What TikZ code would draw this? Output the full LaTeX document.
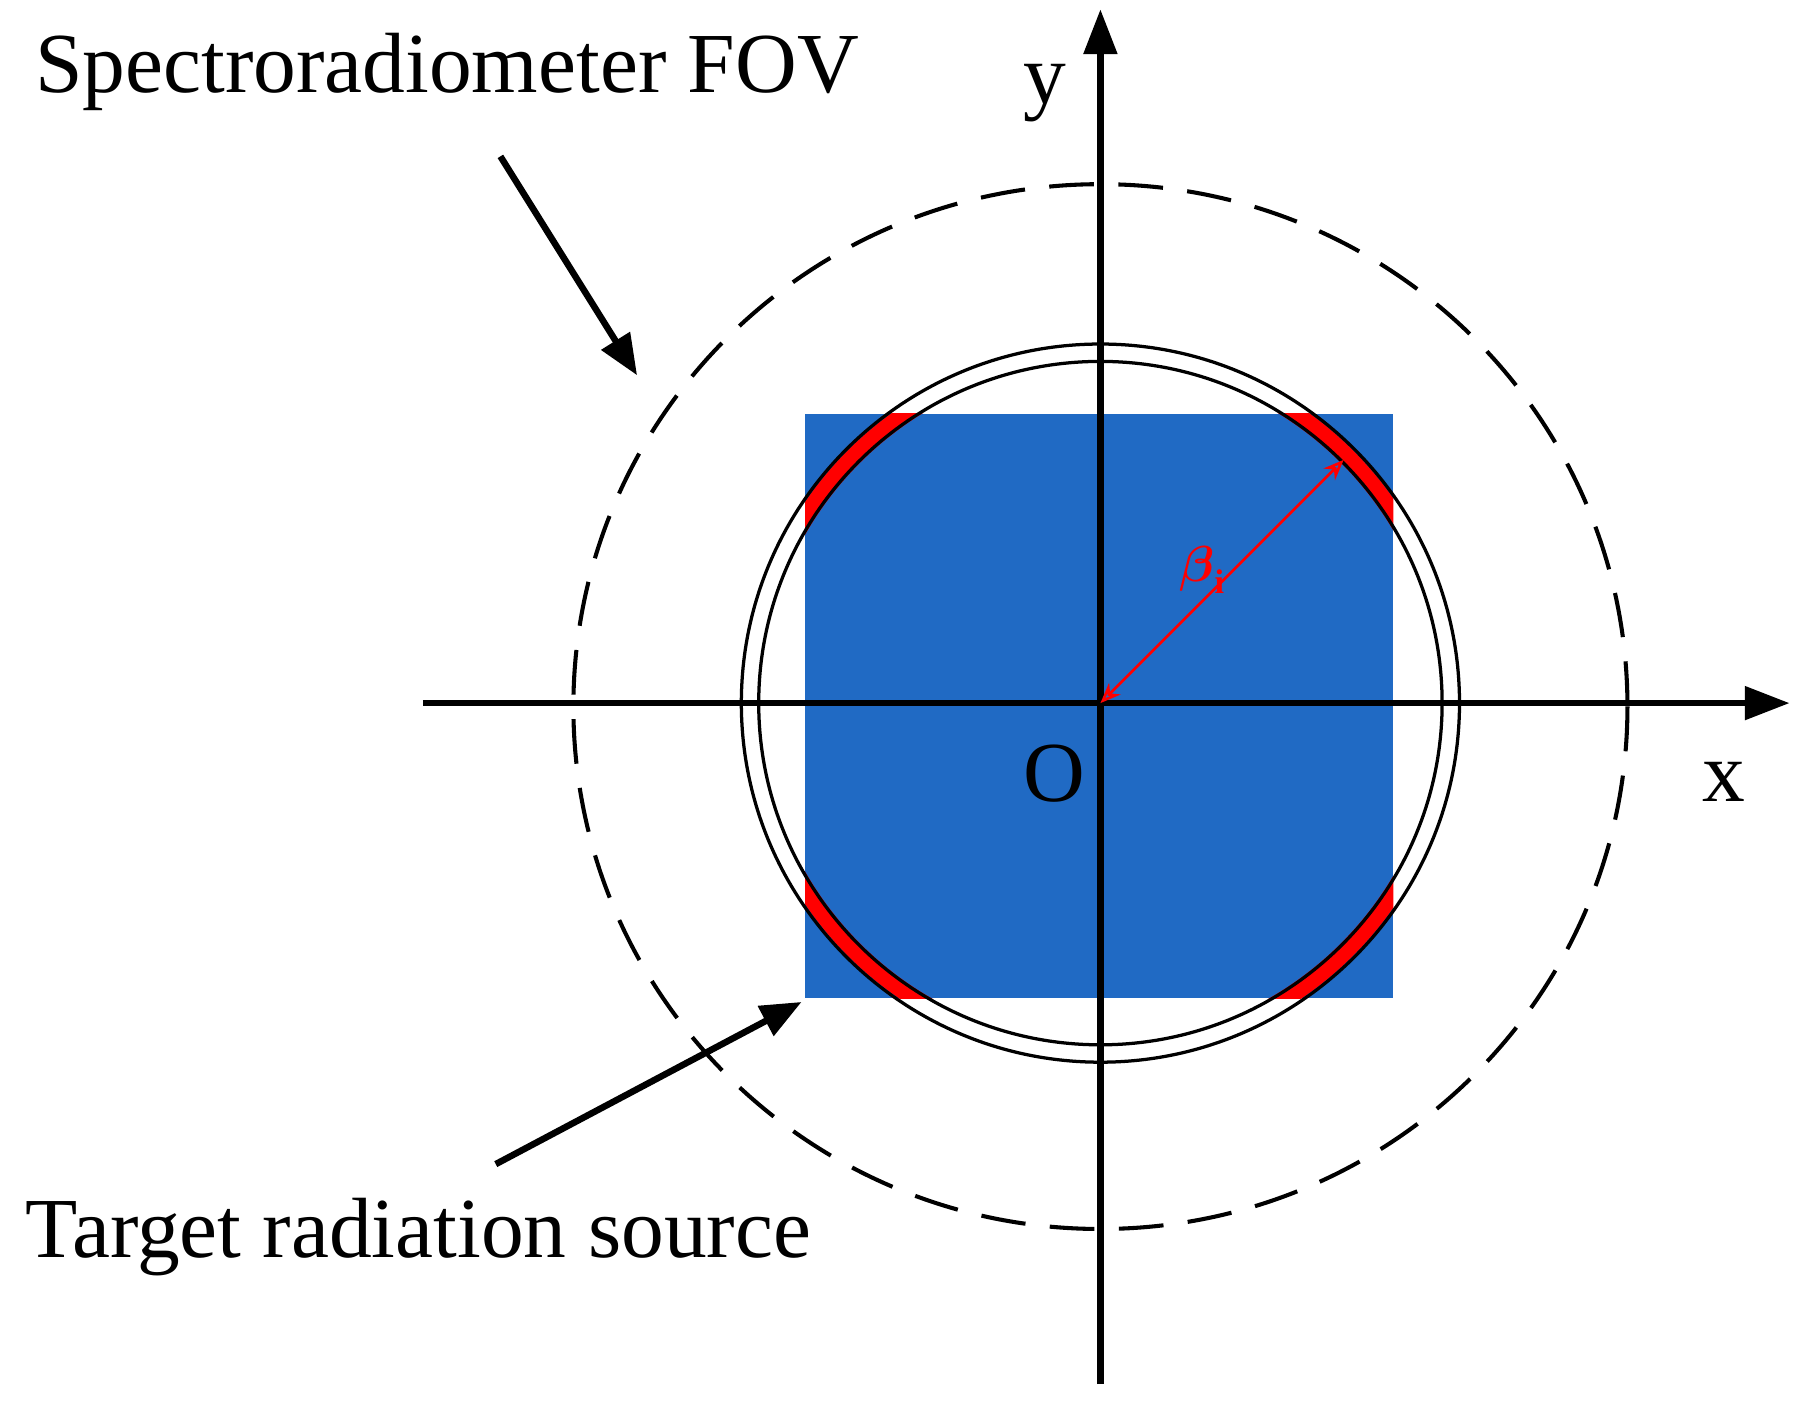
\documentclass[tikz,border=0pt]{standalone}
\usepackage{amsmath,amssymb}
\usepackage{fontspec}
\setmainfont{Liberation Serif}
\usetikzlibrary{arrows.meta}
\begin{document}
\begin{tikzpicture}[x=0.02cm,y=-0.02cm,
  ax/.style={line width=3.2pt,-{Triangle[length=22pt,width=16pt]}},
  pt/.style={line width=3.2pt,-{Triangle[length=20pt,width=16pt]}},
  lbl/.style={font=\fontsize{42}{48}\selectfont,inner sep=0pt}]
\useasboundingbox (0,0) rectangle (1560,1220);
\coordinate (O) at (950,607);
\fill[fill={rgb,255:red,32;green,106;blue,196}] (695,357) rectangle (1203,862);
\begin{scope}
\clip (695,357) rectangle (1203,862);
\draw[red,line width=0.3cm] (O) circle[radius=301];
\end{scope}
\draw[line width=1.6pt] (O) circle[radius=295];
\draw[line width=1.6pt] (O) circle[radius=310];
\draw[line width=2pt,dash pattern=on 22pt off 12pt] (950,610) ellipse[x radius=455,y radius=451];
\coordinate (xs) at (365,607); \coordinate (xe) at (1545,607);
\coordinate (ys) at (950,1195); \coordinate (ye) at (950,8);
\draw[ax] (xs) -- (xe);
\draw[ax] (ys) -- (ye);
\coordinate (bt) at (1160,397);
\draw[red,line width=1.3pt,{Stealth[length=10pt,width=8pt,open]}-{Stealth[length=10pt,width=8pt,open]}] (O) -- (bt);
\node[red,font=\fontsize{24}{28}\selectfont\bfseries] (beta) at (1038,492) {$\boldsymbol{\beta}_{\mathbf{i}}$};
\node[lbl,anchor=west] (fov) at (30,62) {Spectroradiometer FOV};
\node[lbl,anchor=west] (trs) at (22,1068) {Target radiation source};
\node[lbl] (ylab) at (902,80) {y};
\node[lbl] (xlab) at (1488,675) {x};
\node[lbl] (olab) at (910,668) {O};
\coordinate (f1) at (432,135); \coordinate (f2) at (550,324);
\coordinate (t1) at (428,1005); \coordinate (t2) at (692,865);
\draw[pt] (f1) -- (f2);
\draw[pt] (t1) -- (t2);
\end{tikzpicture}
\end{document}
